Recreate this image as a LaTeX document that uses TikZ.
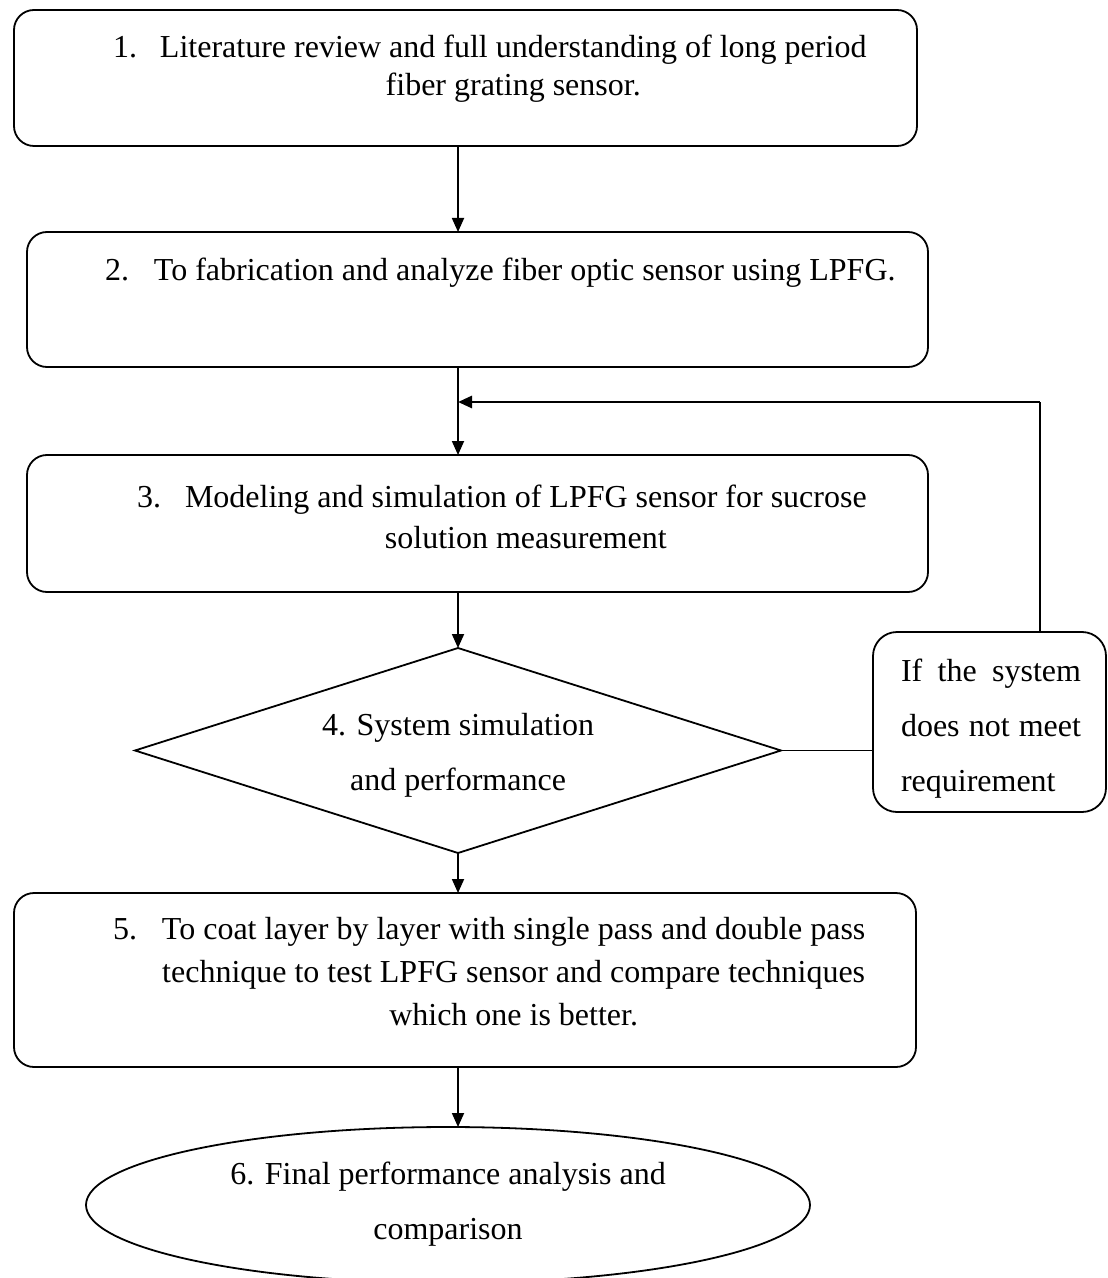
\documentclass[tikz,border=0pt]{standalone}
\usepackage{fontspec}
\setmainfont{Liberation Serif}
\usetikzlibrary{shapes.geometric,arrows.meta}

\begin{document}
\begin{tikzpicture}[x=0.5pt,y=-0.5pt]
        \tikzstyle{every node}=[inner sep=0pt,outer sep=0pt]
        \tikzstyle{stepbox}=[draw,line width=0.9pt,rounded corners=10pt]
        \tikzstyle{steptext}=[anchor=base west,font=\fontsize{16}{20.5}\selectfont]
        \tikzstyle{widetext}=[anchor=base,font=\fontsize{16}{27.5}\selectfont]
        \tikzstyle{arr}=[line width=0.9pt,-{Triangle[length=7pt,width=6pt]}]

        \useasboundingbox (0,0) rectangle (1107,1278);

        \node[stepbox,minimum width=451.5pt,minimum height=68pt] (b1) at (465.5,78) {};
        \node[steptext,font=\fontsize{16}{19}\selectfont] (t1) at (113,58) {\begin{tabular}[t]{@{}l@{\hspace{11.5pt}}c@{}}1. & Literature review and full understanding of long period\\ & fiber grating sensor.\end{tabular}};

        \node[stepbox,minimum width=450.5pt,minimum height=67.5pt] (b2) at (477.5,299.5) {};
        \node[steptext] (t2) at (105,281) {\begin{tabular}[t]{@{}l@{\hspace{12.5pt}}l@{}}2. & To fabrication and analyze fiber optic sensor using LPFG.\end{tabular}};

        \node[stepbox,minimum width=450.5pt,minimum height=68.5pt] (b3) at (477.5,523.5) {};
        \node[steptext] (t3) at (137,507) {\begin{tabular}[t]{@{}l@{\hspace{12pt}}c@{}}3. & Modeling and simulation of LPFG sensor for sucrose\\ & solution measurement\end{tabular}};

        \node[draw,diamond,line width=0.9pt,minimum width=323pt,minimum height=102.5pt] (dia) at (458,750.5) {};
        \node[widetext] (t4) at (458,735) {\begin{tabular}[t]{@{}c@{}}4. System simulation\\ and performance\end{tabular}};

        \node[stepbox,rounded corners=12pt,minimum width=116.5pt,minimum height=90pt] (ifb) at (989.5,722) {};
        \node[widetext,anchor=base west] (t7) at (901,681) {\begin{tabular}[t]{@{}l@{}}\makebox[90pt][s]{If the system}\\ \makebox[90pt][s]{does not meet}\\ requirement\end{tabular}};

        \node[stepbox,minimum width=451pt,minimum height=87pt] (b5) at (465,980) {};
        \node[steptext,font=\fontsize{16}{21.5}\selectfont] (t5) at (113,939) {\begin{tabular}[t]{@{}l@{\hspace{12.5pt}}c@{}}5. & To coat layer by layer with single pass and double pass\\ & technique to test LPFG sensor and compare techniques\\ & which one is better.\end{tabular}};

        \node[draw,ellipse,line width=0.9pt,minimum width=362pt,minimum height=78pt] (ell) at (448,1205) {};
        \node[widetext] (t6) at (448,1184) {\begin{tabular}[t]{@{}c@{}}6. Final performance analysis and\\ comparison\end{tabular}};

        \draw[arr] (b1.south -| dia.north) -- (b2.north -| dia.north);
        \draw[arr] (b2.south -| dia.north) -- (b3.north -| dia.north);
        \draw[arr] (b3.south -| dia.north) -- (dia.north);
        \draw[arr] (dia.south) -- (b5.north -| dia.south);
        \draw[arr] (b5.south -| dia.south) -- (ell.north -| dia.south);

        \coordinate (fb) at (1040,402);
        \draw[line width=0.9pt] (dia.east) -- (dia.east -| ifb.west);
        \draw[line width=0.9pt] (ifb.north -| fb) -- (fb);
        \draw[arr,line width=1.4pt] (fb) -- (fb -| dia.north);

    \end{tikzpicture}
\end{document}
